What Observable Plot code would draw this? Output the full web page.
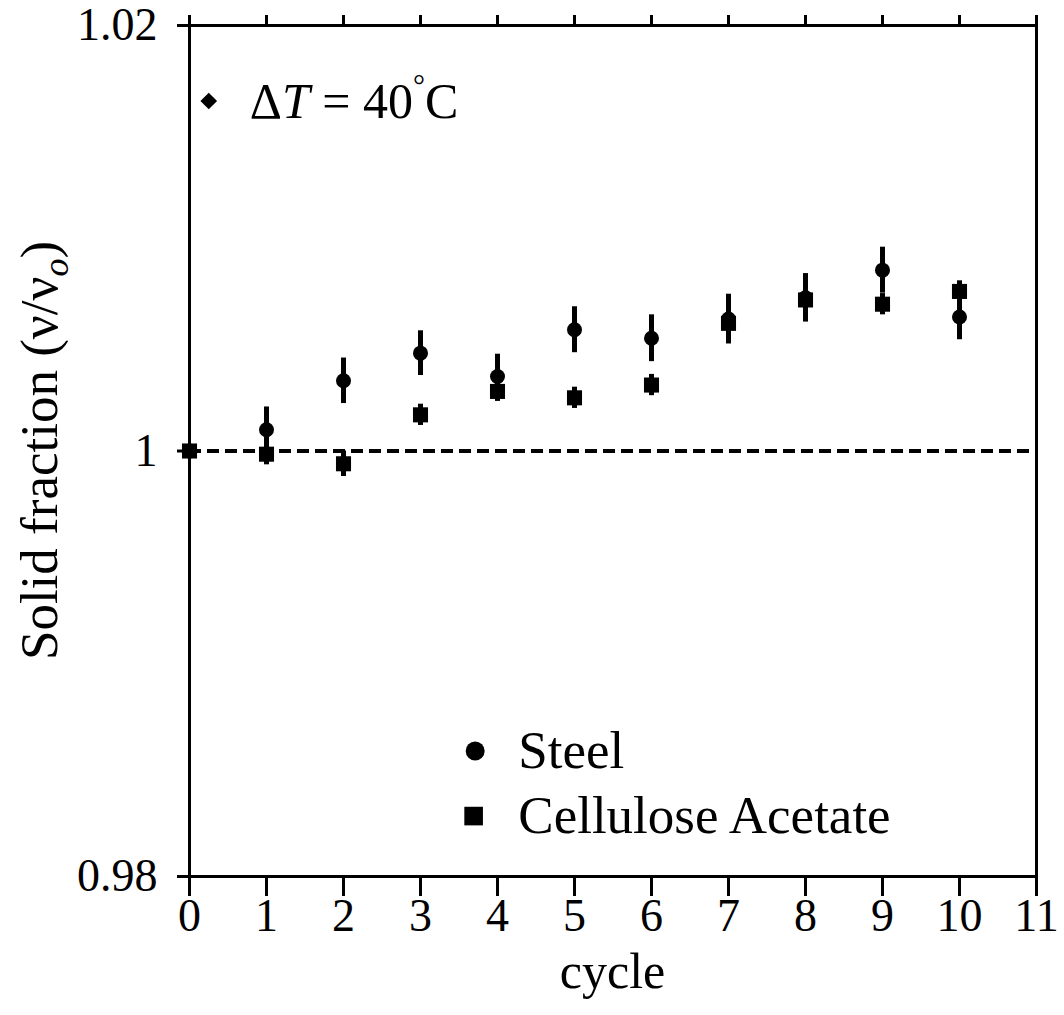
<!DOCTYPE html>
<html><head><meta charset="utf-8">
<script src="https://cdn.jsdelivr.net/npm/d3@7"></script>
<script src="https://cdn.jsdelivr.net/npm/@observablehq/plot@0.6"></script>
<style>body{margin:0;background:#fff}</style>
</head><body><div id="chart"></div>
<script>
const cycles = [0, 1, 2, 3, 4, 5, 6, 7, 8, 9, 10];
const steelValues = [1.0000, 1.0010, 1.0033, 1.0046, 1.0035, 1.0057, 1.0053, 1.0062, 1.0072, 1.0085, 1.0063];
const steelErrors = [0, 0.00107, 0.00107, 0.00105, 0.00105, 0.00108, 0.0011, 0.00117, 0.00114, 0.00108, 0.00107];
const caValues = [1.0000, 0.99985, 0.9994, 1.0017, 1.0028, 1.0025, 1.0031, 1.0060, 1.0071, 1.0069, 1.0075];
const caErrors = [0, 0.0005, 0.0006, 0.0005, 0.00047, 0.0005, 0.0005, 0.0005, 0.0005, 0.0005, 0.0005];
const xTicks = [0, 1, 2, 3, 4, 5, 6, 7, 8, 9, 10, 11];
const yTicks = [0.98, 1, 1.02];
const legendLabels = ["Steel", "Cellulose Acetate"];
const legendX = [3.71, 3.69];
const legendY = [0.98590, 0.98284];
const legendTextX = 4.27;
const annotX = 0.25, annotY = 1.01645, annotTextX = 0.79;

const steel = cycles.map((c, i) => ({cycle: c, v: steelValues[i], e: steelErrors[i]}));
const ca = cycles.map((c, i) => ({cycle: c, v: caValues[i], e: caErrors[i]}));
const legend = legendLabels.map((l, i) => ({label: l, x: legendX[i], y: legendY[i]}));

const FONT = "'Liberation Serif', 'Times New Roman', serif";

const chart = Plot.plot({
  width: 1064, height: 1015,
  marginLeft: 189, marginRight: 28, marginTop: 25, marginBottom: 139,
  style: {fontFamily: FONT, fontSize: "46px", background: "white", color: "black", overflow: "visible"},
  x: {domain: [0, 11]},
  y: {domain: [0.98, 1.02]},
  marks: [
    Plot.ruleY([1], {strokeDasharray: "12,6", strokeWidth: 4, stroke: "black"}),
    Plot.ruleX(steel.filter(d => d.e > 0), {x: "cycle", y1: d => d.v - d.e, y2: d => d.v + d.e, strokeWidth: 5, stroke: "black"}),
    Plot.ruleX(ca.filter(d => d.e > 0), {x: "cycle", y1: d => d.v - d.e, y2: d => d.v + d.e, strokeWidth: 5, stroke: "black"}),
    Plot.dot(steel, {x: "cycle", y: "v", r: 7.5, fill: "black", symbol: "circle"}),
    Plot.dot(ca, {x: "cycle", y: "v", r: 8.5, fill: "black", symbol: "square"}),
    Plot.dot(legend.slice(0, 1), {x: "x", y: "y", symbol: "circle", r: 9.5, fill: "black"}),
    Plot.dot(legend.slice(1, 2), {x: "x", y: "y", symbol: "square", r: 10.5, fill: "black"}),
    Plot.text(legend, {x: () => legendTextX, y: "y", text: "label", textAnchor: "start", fontSize: 53, fill: "black"}),
    Plot.dot([{x: annotX, y: annotY}], {x: "x", y: "y", symbol: "diamond2", r: 7.5, fill: "black"}),
    Plot.frame({strokeWidth: 3, stroke: "black"}),
    Plot.axisX({ticks: xTicks, tickSize: 20, tickPadding: 2, strokeWidth: 3, fontSize: 46, label: null, tickFormat: d => String(d)}),
    Plot.axisX({anchor: "top", ticks: xTicks, tickSize: 11, strokeWidth: 3, label: null, tickFormat: () => ""}),
    Plot.axisY({ticks: yTicks, tickSize: 12, tickPadding: 20, strokeWidth: 3, fontSize: 46, label: null, tickFormat: d => d === 1 ? "1" : d.toFixed(2)})
  ]
});
document.getElementById("chart").appendChild(chart);

const sx = chart.scale("x"), sy = chart.scale("y");
const svg = d3.select(chart);

// annotation ΔT = 40°C
const at = svg.append("text")
  .attr("x", sx.apply(annotTextX)).attr("y", sy.apply(annotY)).attr("dy", "0.34em")
  .attr("text-anchor", "start")
  .attr("font-family", FONT).attr("font-size", 50).attr("fill", "black");
at.append("tspan").text("Δ");
at.append("tspan").attr("font-style", "italic").text("T");
at.append("tspan").text(" = 40");
at.append("tspan").attr("font-size", 30).attr("dy", "-0.75em").text("°");
at.append("tspan").attr("dy", "0.45em").text("C");

// y label
const yl = svg.append("text")
  .attr("transform", `translate(57,${(sy.apply(0.98) + sy.apply(1.02)) / 2}) rotate(-90)`)
  .attr("text-anchor", "middle")
  .attr("font-family", FONT).attr("font-size", 53).attr("fill", "black");
yl.append("tspan").text("Solid fraction (ν/ν");
yl.append("tspan").attr("font-style", "italic").attr("font-size", 36).attr("dy", "0.3em").text("o");
yl.append("tspan").attr("dy", "-0.2em").text(")");

// x label
svg.append("text")
  .attr("x", (sx.apply(0) + sx.apply(11)) / 2).attr("y", 988)
  .attr("text-anchor", "middle")
  .attr("font-family", FONT).attr("font-size", 50).attr("fill", "black")
  .text("cycle");
</script>
</body></html>
